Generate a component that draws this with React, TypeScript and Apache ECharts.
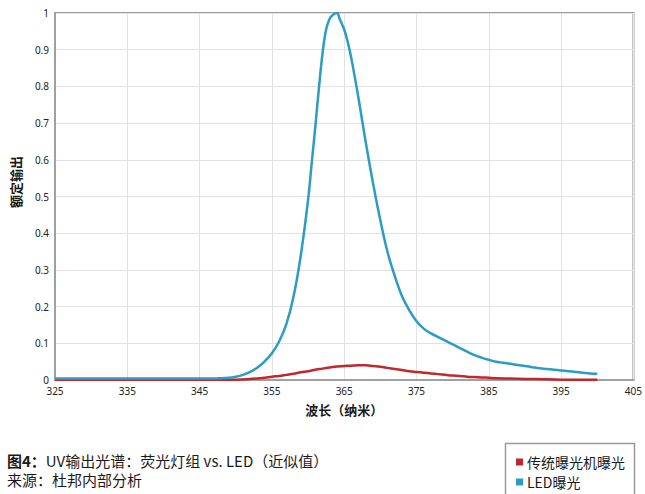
import React, { useEffect, useRef } from "react";
import * as echarts from "echarts";

const ledWavelengths = [
  325, 330, 335, 340, 345, 347, 348, 349, 350, 351, 352, 353, 354, 355, 356, 357, 358, 359, 360,
  360.5, 361, 361.5, 362, 362.5, 363, 363.5, 364, 364.4, 365, 365.5, 366, 367, 368, 369, 370,
  371, 372, 373, 374, 375, 376, 377, 378, 379, 380, 381, 382, 383, 384, 385, 386, 387, 388,
  389, 390, 391, 392, 393, 394, 395, 396, 397, 398, 399, 400,
];
const ledValues = [
  0.004, 0.004, 0.004, 0.004, 0.004, 0.004, 0.005, 0.006, 0.009, 0.014, 0.022, 0.034, 0.051, 0.073, 0.105, 0.152, 0.228, 0.34, 0.49,
  0.59, 0.69, 0.795, 0.89, 0.955, 0.985, 0.996, 1.0, 0.982, 0.955, 0.92, 0.875, 0.765, 0.645, 0.535, 0.435,
  0.348, 0.283, 0.228, 0.19, 0.16, 0.14, 0.127, 0.117, 0.107, 0.097, 0.087, 0.077, 0.068, 0.061, 0.055, 0.05, 0.047, 0.044,
  0.041, 0.038, 0.035, 0.032, 0.03, 0.028, 0.026, 0.024, 0.022, 0.02, 0.018, 0.017,
];

const lampWavelengths = [
  325, 335, 345, 349, 350, 352, 354, 355, 356, 357, 358, 359, 360, 361, 362, 363, 364, 365, 366,
  367, 368, 369, 370, 371, 372, 373, 374, 375, 376, 377, 378, 379, 380, 381, 382, 383, 384, 385,
  386, 388, 390, 393, 396, 400,
];
const lampValues = [
  0.001, 0.001, 0.001, 0.001, 0.001, 0.003, 0.006, 0.009, 0.011, 0.014, 0.017, 0.021, 0.024, 0.028, 0.031, 0.034, 0.037, 0.038, 0.039,
  0.04, 0.04, 0.038, 0.036, 0.033, 0.03, 0.027, 0.024, 0.022, 0.02, 0.018, 0.016, 0.014, 0.012, 0.011, 0.009, 0.008, 0.007, 0.006,
  0.005, 0.004, 0.003, 0.002, 0.001, 0.001,
];

const seriesNames = ["传统曝光机曝光", "LED曝光"];
const xAxisName = "波长（纳米）";
const yAxisName = "额定输出";
const captionTitle = "UV输出光谱：荧光灯组 vs. LED（近似值）";
const captionPrefix = "图4：";
const captionSource = "来源：杜邦内部分析";

export default function App() {
  const ref = useRef<HTMLDivElement>(null);
  useEffect(() => {
    if (!ref.current) return;
    const chart = echarts.init(ref.current, undefined, { renderer: "svg" });
    const font = "Noto Sans, Noto Sans CJK SC, sans-serif";
    const cjk = "Noto Sans CJK SC, Noto Sans, sans-serif";
    chart.setOption({
      animation: false,
      backgroundColor: "#ffffff",
      textStyle: { fontFamily: cjk },
      grid: {
        left: 55,
        right: 8,
        top: 13,
        bottom: 114,
        show: true,
        borderColor: "#9a9a9a",
        borderWidth: 2,
      },
      legend: {
        orient: "vertical",
        left: 516,
        top: 455,
        padding: 0,
        itemGap: 6,
        itemWidth: 7,
        itemHeight: 7,
        icon: "rect",
        textStyle: { fontSize: 14, color: "#1a1a1a", fontFamily: cjk, padding: [0, 0, 0, -1] },
        data: seriesNames,
      },
      xAxis: {
        type: "value",
        min: 325,
        max: 405,
        interval: 10,
        name: xAxisName,
        nameLocation: "middle",
        nameGap: 23,
        nameTextStyle: { fontSize: 13, fontWeight: "bold", color: "#1a1a1a", fontFamily: cjk },
        axisLine: { show: true, lineStyle: { color: "#a0a0a0", width: 2 } },
        axisTick: { show: false },
        axisLabel: { fontSize: 10, color: "#222", margin: 6, fontFamily: font },
        splitLine: { show: true, lineStyle: { color: "#e2e2e2", width: 1 } },
      },
      yAxis: {
        type: "value",
        min: 0,
        max: 1,
        interval: 0.1,
        axisLine: { show: true, lineStyle: { color: "#a0a0a0", width: 2 } },
        axisTick: { show: false },
        axisLabel: { fontSize: 10, color: "#222", margin: 6, fontFamily: font },
        splitLine: { show: true, lineStyle: { color: "#e2e2e2", width: 1 } },
      },
      series: [
        {
          name: seriesNames[0],
          type: "line",
          showSymbol: false,
          smooth: 0.4,
          color: "#c1272d",
          lineStyle: { width: 2.5, color: "#c1272d" },
          data: lampWavelengths.map((w, i) => [w, lampValues[i]]),
          z: 2,
        },
        {
          name: seriesNames[1],
          type: "line",
          showSymbol: false,
          smooth: 0.4,
          color: "#2b9cc4",
          lineStyle: { width: 2.5, color: "#2b9cc4" },
          data: ledWavelengths.map((w, i) => [w, ledValues[i]]),
          z: 3,
        },
      ],
      graphic: [
        {
          type: "text",
          x: 15,
          y: 182,
          rotation: Math.PI / 2,
          style: {
            text: yAxisName,
            fontSize: 13,
            fontWeight: "bold",
            fill: "#1a1a1a",
            fontFamily: cjk,
            align: "center",
            verticalAlign: "middle",
          },
        },
        {
          type: "text",
          left: 7,
          top: 453,
          style: {
            text: "{b|" + captionPrefix + "}" + captionTitle,
            fontSize: 15,
            fill: "#1a1a1a",
            fontFamily: cjk,
            rich: { b: { fontSize: 15, fontWeight: "bold", fill: "#1a1a1a", fontFamily: cjk } },
          },
        },
        {
          type: "text",
          left: 7,
          top: 472,
          style: { text: captionSource, fontSize: 15, fill: "#1a1a1a", fontFamily: cjk },
        },
        {
          type: "rect",
          shape: { x: 505.5, y: 443.5, width: 129, height: 70 },
          style: { fill: "none", stroke: "#9a9a9a", lineWidth: 1.5 },
          z: -1,
        },
      ],
    });
    return () => chart.dispose();
  }, []);
  return (
    <div
      ref={ref}
      style={{ position: "fixed", left: 0, top: 0, width: 645, height: 494 }}
    />
  );
}
